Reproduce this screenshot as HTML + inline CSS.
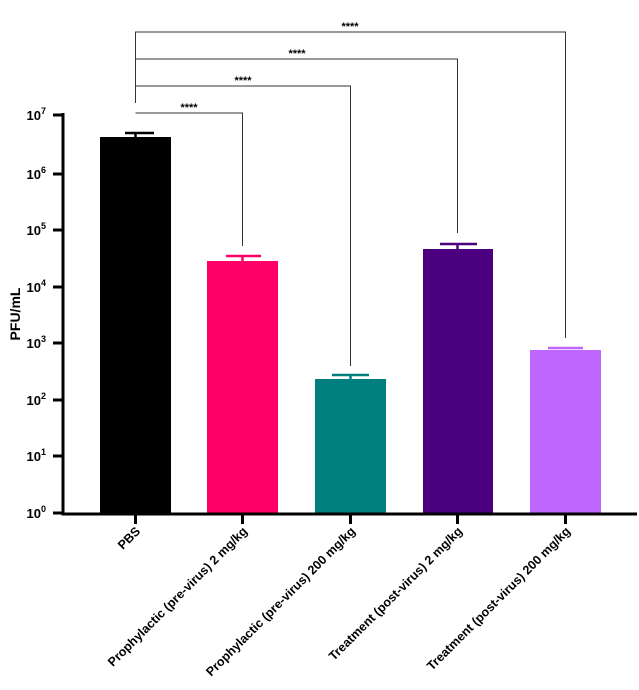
<!DOCTYPE html>
<html><head><meta charset="utf-8"><style>body{margin:0;background:#fff}</style></head><body>
<svg width="639" height="685" viewBox="0 0 639 685" xmlns="http://www.w3.org/2000/svg" font-family="Liberation Sans, Arial, sans-serif" font-weight="bold">
<rect width="639" height="685" fill="#fff"/>
<!-- bars -->
<rect x="100" y="137" width="71" height="376" fill="#000"/>
<rect x="207" y="261" width="71" height="252" fill="#ff0066"/>
<rect x="315" y="379" width="71" height="134" fill="#007f7f"/>
<rect x="423" y="249" width="70" height="264" fill="#4b0080"/>
<rect x="530" y="350" width="71" height="163" fill="#bf66ff"/>
<!-- error bars -->
<g stroke-width="2.5" fill="none">
<path d="M125 133H154M135.5 133V137" stroke="#000"/>
<path d="M226 256H261M242.5 256V261" stroke="#ff0066"/>
<path d="M332 375H369M350.5 375V379" stroke="#007f7f"/>
<path d="M440 244H477M457.5 244V249" stroke="#4b0080"/>
<path d="M548 348H583" stroke="#bf66ff"/>
</g>
<!-- brackets -->
<g stroke="#333" stroke-width="1" fill="none">
<path d="M135.5 103V32H565.5V338"/>
<path d="M135.5 59H457.5V233"/>
<path d="M135.5 86H350.5V366"/>
<path d="M135.5 113H242.5V246"/>
</g>
<g font-size="11" text-anchor="middle" fill="#000">
<text x="189" y="111">****</text>
<text x="243" y="84">****</text>
<text x="297" y="57">****</text>
<text x="350" y="30">****</text>
</g>
<!-- axes -->
<g stroke="#000" stroke-width="3" fill="none">
<path d="M63 113V514H637"/>
<path d="M53 115H63M53 174H63M53 230H63M53 287H63M53 343H63M53 400H63M53 456H63M53 513H63"/>
<path d="M135.5 514V524M242.5 514V524M350.5 514V524M457.5 514V524M565.5 514V524"/>
</g>
<g font-size="13" text-anchor="end" fill="#000">
<text x="46" y="120">10<tspan font-size="9" dy="-6">7</tspan></text>
<text x="46" y="179">10<tspan font-size="9" dy="-6">6</tspan></text>
<text x="46" y="235">10<tspan font-size="9" dy="-6">5</tspan></text>
<text x="46" y="292">10<tspan font-size="9" dy="-6">4</tspan></text>
<text x="46" y="348">10<tspan font-size="9" dy="-6">3</tspan></text>
<text x="46" y="405">10<tspan font-size="9" dy="-6">2</tspan></text>
<text x="46" y="461">10<tspan font-size="9" dy="-6">1</tspan></text>
<text x="46" y="518">10<tspan font-size="9" dy="-6">0</tspan></text>
</g>
<text transform="translate(20 314) rotate(-90)" font-size="14" text-anchor="middle">PFU/mL</text>
<g font-size="12.5" text-anchor="end" fill="#000">
<text transform="translate(141 532) rotate(-45)">PBS</text>
<text transform="translate(248 532) rotate(-45)">Prophylactic (pre-virus) 2 mg/kg</text>
<text transform="translate(356 532) rotate(-45)">Prophylactic (pre-virus) 200 mg/kg</text>
<text transform="translate(463 532) rotate(-45)">Treatment (post-virus) 2 mg/kg</text>
<text transform="translate(571 532) rotate(-45)">Treatment (post-virus) 200 mg/kg</text>
</g>
</svg>
</body></html>
